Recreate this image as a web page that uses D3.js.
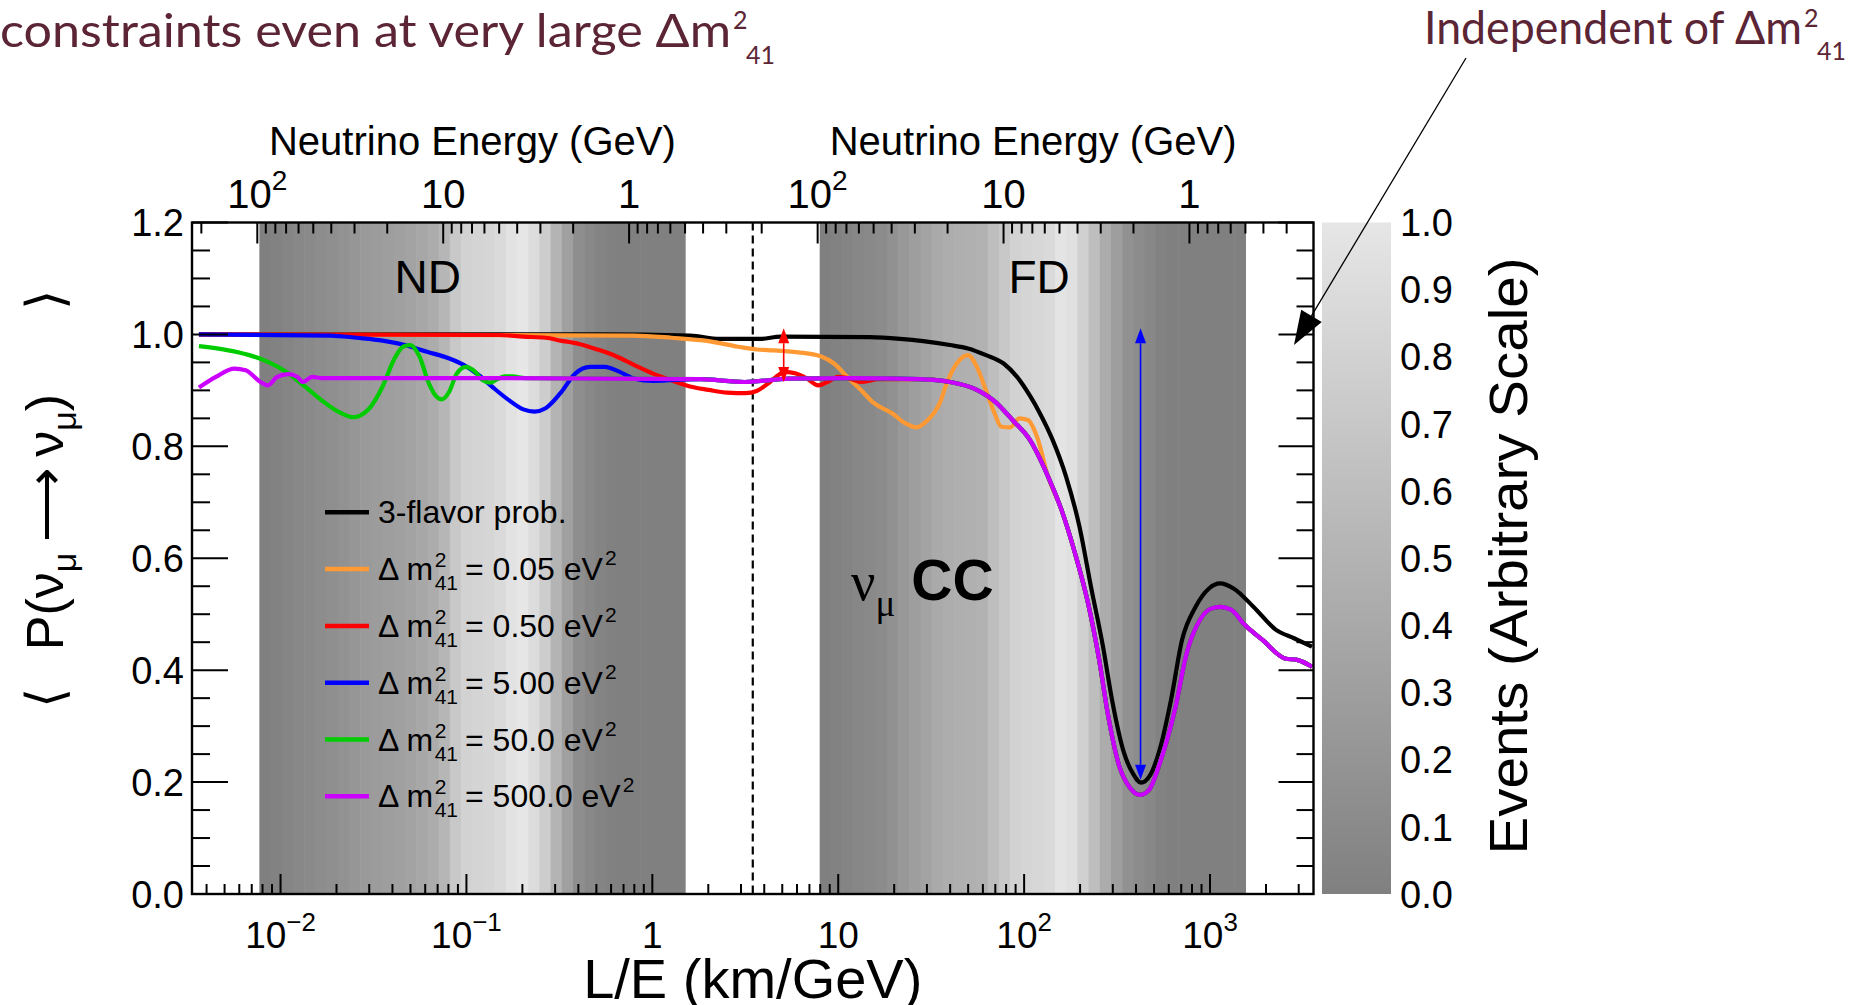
<!DOCTYPE html>
<html>
<head>
<meta charset="utf-8">
<script src="https://cdn.jsdelivr.net/npm/d3@7"></script>
<style>
  html, body { margin: 0; padding: 0; background: #fff; }
  svg { display: block; }
  text { font-family: "Liberation Sans", Arial, Helvetica, sans-serif; fill: #000; }
  .hdr { font-family: Lato, "Open Sans", sans-serif; fill: #5b2535; }
</style>
</head>
<body>
<svg id="chart" width="1856" height="1005"></svg>
<script>
// ---------------- data ----------------
// Baselines (km) of the two detectors, used for the energy axes on top.
const ndBaselineKm = 0.75;
const fdBaselineKm = 775;
// Energy range covered by the event-rate shading (GeV).
const bandEnergyGeV = [0.5, 97.5];
// L/E value separating the ND and FD halves.
const detectorDividerLE = 3.47;

// Relative event rates per energy bin (high energy -> low energy, left to right).
const ndEvents = [0, .02, .05, .08, .10, .13, .15, .18, .22, .25, .27, .29, .31, .34, .38, .43, .53, .71, .80, .82,
                  .84, .88, .96, 1.0, .90, .75, .51, .31, .14, .08, .04, .01, 0, 0, 0, 0, 0, 0];
const fdEvents = [0, .02, .04, .07, .09, .12, .17, .24, .29, .34, .41, .44, .46, .47, .49, .61, .71, .80, .83, .85,
                  .88, .98, .94, .78, .61, .43, .29, .17, .12, .08, .02, 0, 0, 0, 0, 0, 0, 0];

// Axis ranges
const leDomain = [0.00334, 3603];
const probDomain = [0, 1.2];

// Tick labels
const leTickValues = [0.01, 0.1, 1, 10, 100, 1000];
const leTickLabels = ["10^\u22122", "10^\u22121", "1", "10", "10^2", "10^3"];
const energyTickValues = [100, 10, 1];
const energyTickLabels = ["10^2", "10", "1"];
const probTickValues = [0, 0.2, 0.4, 0.6, 0.8, 1.0, 1.2];
const eventTickValues = [0, 0.1, 0.2, 0.3, 0.4, 0.5, 0.6, 0.7, 0.8, 0.9, 1.0];

// 3-flavour survival probability
const threeFlavorLE = [0.00364, 0.5, 1.6, 2.3, 3.8, 4.9, 14.8, 21.5, 28.6, 39.9,
  49.9, 62.4, 77.6, 91.6, 107.6, 120.3, 142.5, 168.1, 198.6, 229.0,
  265.7, 297.1, 344.7, 385.3, 425.5, 475.7, 538.3, 617.0, 707.1, 835.6,
  987.6, 1132, 1338, 1716, 2265, 2830, 3538];
const threeFlavorP = [1.0, 1.0, 0.998, 0.992, 0.992, 0.996, 0.995, 0.992, 0.988, 0.981,
  0.975, 0.963, 0.948, 0.924, 0.89, 0.862, 0.811, 0.746, 0.656, 0.549,
  0.442, 0.347, 0.252, 0.215, 0.199, 0.212, 0.26, 0.347, 0.454, 0.513,
  0.546, 0.555, 0.546, 0.513, 0.472, 0.457, 0.442];

// Common far-detector part shared by all 3+1 curves
const fdTailLE = [134.5, 159.1, 187.8, 220.7, 252.9, 282.7, 323.9, 371.2, 420.2, 469.8, 538.3,
  648.2, 748.4, 883.5, 1012.5, 1132, 1297, 1535, 1916, 2526, 2974, 3538];
const fdTailP = [0.746, 0.686, 0.609, 0.52, 0.42, 0.32, 0.23, 0.19, 0.177, 0.186, 0.235,
  0.33, 0.43, 0.49, 0.51, 0.513, 0.508, 0.481, 0.454, 0.421, 0.418, 0.406];

// dm41^2 = 0.05 eV^2
const dm005LE = [0.00364, 0.7974, 1.268, 2.006, 2.891, 3.644, 4.181, 6.093, 8.031, 9.493,
  11.19, 13.21, 15.58, 19.48, 22.99, 26.37, 30.3, 35.73, 37.78, 43.4,
  49.86, 55.67, 62.15, 69.39, 75.41, 84.32, 94.1, 104.9, 117.3];
const dm005P = [1.0, 0.998, 0.994, 0.988, 0.978, 0.973, 0.972, 0.968, 0.961, 0.948,
  0.924, 0.901, 0.877, 0.859, 0.841, 0.834, 0.847, 0.883, 0.907, 0.948,
  0.963, 0.942, 0.901, 0.859, 0.835, 0.834, 0.85, 0.847, 0.817];

// dm41^2 = 0.50 eV^2
const dm05LE = [0.00364, 0.1516, 0.2023, 0.2667, 0.3204, 0.4034, 0.5066, 0.6378, 0.8013, 1.009,
  1.268, 1.595, 2.006, 2.522, 3.176, 3.644, 4.181, 4.623, 5.162, 5.929,
  6.796, 7.816, 8.708, 10.03, 11.52, 13.21, 16.49, 27.54, 39.9, 55.67,
  69.74, 86.6, 107.6];
const dm05P = [1.0, 0.999, 0.996, 0.994, 0.989, 0.983, 0.973, 0.961, 0.945, 0.93,
  0.918, 0.907, 0.901, 0.896, 0.895, 0.899, 0.912, 0.924, 0.933, 0.93,
  0.921, 0.909, 0.915, 0.924, 0.921, 0.915, 0.92, 0.92, 0.915, 0.901,
  0.88, 0.847, 0.811];

// dm41^2 = 5.00 eV^2
const dm5LE = [0.00364, 0.01862, 0.0257, 0.03541, 0.04662, 0.06139, 0.08091, 0.09707, 0.1167, 0.1403,
  0.1684, 0.2023, 0.2321, 0.2667, 0.3204, 0.3848, 0.4623, 0.5553, 0.667, 0.8013,
  1.009, 1.806, 3.137, 5.437, 11.57, 27.54, 39.9, 55.67, 69.74, 86.6, 107.6];
const dm5P = [1.0, 0.998, 0.994, 0.989, 0.981, 0.969, 0.957, 0.945, 0.927, 0.904,
  0.883, 0.866, 0.862, 0.868, 0.895, 0.93, 0.942, 0.942, 0.933, 0.921,
  0.917, 0.92, 0.915, 0.921, 0.922, 0.92, 0.915, 0.901, 0.88, 0.847, 0.811];

// dm41^2 = 50.0 eV^2
const dm50LE = [0.00364, 0.005157, 0.006796, 0.00855, 0.01075, 0.01351, 0.01699, 0.02041, 0.02455, 0.02949,
  0.03541, 0.04062, 0.0456, 0.04997, 0.05601, 0.06286, 0.06889, 0.07382, 0.08091, 0.08867,
  0.0995, 0.1115, 0.1222, 0.134, 0.1468, 0.1609, 0.1764, 0.2067, 1.806, 3.137,
  5.437, 11.57, 27.54, 39.9, 55.67, 69.74, 86.6, 107.6];
const dm50P = [0.979, 0.972, 0.963, 0.951, 0.933, 0.907, 0.88, 0.862, 0.852, 0.865,
  0.907, 0.954, 0.978, 0.981, 0.96, 0.912, 0.889, 0.884, 0.898, 0.93,
  0.942, 0.933, 0.918, 0.914, 0.92, 0.925, 0.925, 0.922, 0.92, 0.915,
  0.921, 0.922, 0.92, 0.915, 0.901, 0.88, 0.847, 0.811];

// dm41^2 = 500.0 eV^2
const dm500LE = [0.00364, 0.00449, 0.00565, 0.00649, 0.0078, 0.00855, 0.00958, 0.011, 0.01233, 0.01321,
  0.01481, 0.01672, 0.1516, 1.806, 3.137, 5.437, 11.57, 27.54, 39.9, 55.67,
  69.74, 86.6, 107.6];
const dm500P = [0.905, 0.924, 0.939, 0.936, 0.915, 0.909, 0.924, 0.929, 0.924, 0.915,
  0.924, 0.922, 0.922, 0.92, 0.915, 0.921, 0.922, 0.92, 0.915, 0.901,
  0.88, 0.847, 0.811];

// Legend
const seriesColors = ["#000000", "#ff9933", "#ff0000", "#0000ff", "#00cc00", "#cc00ff"];
const legendDm2 = [null, "0.05", "0.50", "5.00", "50.0", "500.0"];

// Size of the disappearance effect at the two detectors
const ndArrow = { le: 5.09, p: [1.011, 0.915], color: "#ff0000" };
const fdArrow = { le: 423, p: [1.011, 0.204], color: "#0000ff" };
// Point the callout refers to
const calloutTarget = [2830, 0.981];
// Where the detector labels sit (L/E)
const ndLabelLE = 0.062;
const fdLabelLE = 120.3;

// ---------------- drawing ----------------
const svg = d3.select("#chart");
const plot = { left: 192, right: 1313.5, top: 222.5, bottom: 894 };
const bar = { left: 1322, right: 1391 };

const x = d3.scaleLog().domain(leDomain).range([plot.left, plot.right]);
const y = d3.scaleLinear().domain(probDomain).range([plot.bottom, plot.top]);
const shade = d3.scaleLinear().domain([0, 1]).range(["#808080", "#e6e6e6"]);
const barY = d3.scaleLinear().domain([0, 1]).range([plot.bottom, plot.top]);

svg.append("rect").attr("width", 1856).attr("height", 1005).attr("fill", "#fff");

svg.append("defs").append("clipPath").attr("id", "plotClip")
  .append("rect").attr("x", plot.left).attr("y", plot.top)
  .attr("width", plot.right - plot.left).attr("height", plot.bottom - plot.top);

// Event-rate shading
function drawBand(events, baselineKm) {
  const lo = Math.log10(baselineKm / bandEnergyGeV[1]);
  const hi = Math.log10(baselineKm / bandEnergyGeV[0]);
  const n = events.length;
  const edges = d3.range(n + 1).map(i => Math.pow(10, lo + (hi - lo) * i / n));
  svg.append("g").selectAll("rect").data(events).join("rect")
    .attr("x", (d, i) => x(edges[i]))
    .attr("width", (d, i) => x(edges[i + 1]) - x(edges[i]) + 0.6)
    .attr("y", plot.top)
    .attr("height", plot.bottom - plot.top)
    .attr("fill", d => shade(d));
}
drawBand(ndEvents, ndBaselineKm);
drawBand(fdEvents, fdBaselineKm);

// Divider between the detectors
svg.append("line")
  .attr("x1", x(detectorDividerLE)).attr("x2", x(detectorDividerLE))
  .attr("y1", plot.top).attr("y2", plot.bottom)
  .attr("stroke", "#000").attr("stroke-width", 2.2).attr("stroke-dasharray", "8,5");

// Curves
const zip = (a, b) => a.map((v, i) => [v, b[i]]);
const series = [
  zip(threeFlavorLE, threeFlavorP),
  zip(dm005LE.concat(fdTailLE), dm005P.concat(fdTailP)),
  zip(dm05LE.concat(fdTailLE), dm05P.concat(fdTailP)),
  zip(dm5LE.concat(fdTailLE), dm5P.concat(fdTailP)),
  zip(dm50LE.concat(fdTailLE), dm50P.concat(fdTailP)),
  zip(dm500LE.concat(fdTailLE), dm500P.concat(fdTailP))
];
const line = d3.line().x(d => x(d[0])).y(d => y(d[1])).curve(d3.curveMonotoneX);
svg.append("g").attr("clip-path", "url(#plotClip)")
  .selectAll("path").data(series).join("path")
  .attr("d", line)
  .attr("fill", "none")
  .attr("stroke", (d, i) => seriesColors[i])
  .attr("stroke-width", 4.2)
  .attr("stroke-linejoin", "round");

// Double-headed arrows
function doubleArrow(a) {
  const xa = x(a.le), y1 = y(a.p[0]), y2 = y(a.p[1]);
  const g = svg.append("g");
  const hl = 15, hw = 5.5;
  g.append("line").attr("x1", xa).attr("x2", xa).attr("y1", y1 + hl).attr("y2", y2 - hl)
    .attr("stroke", a.color).attr("stroke-width", 1.6);
  g.append("path").attr("fill", a.color)
    .attr("d", `M${xa},${y1} L${xa - hw},${y1 + hl} L${xa + hw},${y1 + hl} Z`);
  g.append("path").attr("fill", a.color)
    .attr("d", `M${xa},${y2} L${xa - hw},${y2 - hl} L${xa + hw},${y2 - hl} Z`);
}
doubleArrow(ndArrow);
doubleArrow(fdArrow);

// Frame
svg.append("rect").attr("x", plot.left).attr("y", plot.top)
  .attr("width", plot.right - plot.left).attr("height", plot.bottom - plot.top)
  .attr("fill", "none").attr("stroke", "#000").attr("stroke-width", 2.4);

const ticks = svg.append("g").attr("stroke", "#000").attr("stroke-width", 2);

function powerLabel(sel, label, raise) {
  const parts = label.split("^");
  sel.append("tspan").text(parts[0]);
  if (parts[1]) sel.append("tspan").attr("dy", -raise).style("font-size", "70%").text(parts[1]);
}

// Bottom L/E axis
const leMinor = [];
for (let e = -3; e <= 3; e++) for (let m = 1; m <= 9; m++) {
  const v = m * Math.pow(10, e);
  if (v >= leDomain[0] && v <= leDomain[1]) leMinor.push({ v, major: m === 1 });
}
ticks.selectAll(".bt").data(leMinor).join("line")
  .attr("x1", d => x(d.v)).attr("x2", d => x(d.v))
  .attr("y1", plot.bottom).attr("y2", d => plot.bottom - (d.major ? 20 : 10));
leTickValues.forEach((v, i) => {
  const t = svg.append("text").attr("x", x(v)).attr("y", 948)
    .attr("text-anchor", "middle").style("font-size", "37px");
  powerLabel(t, leTickLabels[i], 17);
});
svg.append("text").attr("x", (plot.left + plot.right) / 2).attr("y", 998)
  .attr("text-anchor", "middle").style("font-size", "56px").text("L/E (km/GeV)");

// Top energy axes, one per detector
const divX = x(detectorDividerLE);
function energyAxis(baselineKm, x0, x1) {
  const pos = e => x(baselineKm / e);
  const list = [];
  for (let p = -2; p <= 3; p++) for (let m = 1; m <= 9; m++) {
    const e = m * Math.pow(10, p);
    const px = pos(e);
    if (px > x0 + 1 && px < x1 - 1) list.push({ px, major: m === 1 });
  }
  list.forEach(d => ticks.append("line").attr("x1", d.px).attr("x2", d.px)
    .attr("y1", plot.top).attr("y2", plot.top + (d.major ? 21 : 11)));
  energyTickValues.forEach((e, i) => {
    const t = svg.append("text").attr("x", pos(e)).attr("y", 207.5)
      .attr("text-anchor", "middle").style("font-size", "40px");
    powerLabel(t, energyTickLabels[i], 18);
  });
  svg.append("text").attr("x", (x0 + x1) / 2).attr("y", 155)
    .attr("text-anchor", "middle").style("font-size", "40px").text("Neutrino Energy (GeV)");
}
energyAxis(ndBaselineKm, plot.left, divX);
energyAxis(fdBaselineKm, divX, plot.right);

// Left and right probability axes
const pTicks = d3.range(0, 25).map(i => ({ v: i * 0.05, major: i % 4 === 0 }));
pTicks.forEach(d => {
  const yy = y(d.v);
  ticks.append("line").attr("x1", plot.left).attr("x2", plot.left + (d.major ? 36 : 18)).attr("y1", yy).attr("y2", yy);
  ticks.append("line").attr("x1", plot.right).attr("x2", plot.right - (d.major ? 35 : 17)).attr("y1", yy).attr("y2", yy);
});
probTickValues.forEach(v => {
  svg.append("text").attr("x", 184).attr("y", y(v)).attr("dy", "0.36em")
    .attr("text-anchor", "end").style("font-size", "38px").text(v.toFixed(1));
});

// Y-axis title: rotated group, x runs upward along the axis
const yt = svg.append("g").attr("transform", "translate(63,0) rotate(-90)").style("font-size", "52px");
yt.append("text").attr("x", -698).attr("text-anchor", "middle").text("\u27E8");
yt.append("text").attr("x", -300).attr("text-anchor", "middle").text("\u27E9");
const ytMid = yt.append("text").attr("x", -522).attr("text-anchor", "middle");
ytMid.append("tspan").text("P(\u03BD");
ytMid.append("tspan").attr("dy", 13).style("font-size", "34px").text("\u03BC");
ytMid.append("tspan").attr("dy", -13).text("\u2009\u27F6\u2009\u03BD");
ytMid.append("tspan").attr("dy", 13).style("font-size", "34px").text("\u03BC");
ytMid.append("tspan").attr("dy", -13).text(")");

// Region labels
svg.append("text").attr("x", x(ndLabelLE)).attr("y", 293)
  .attr("text-anchor", "middle").style("font-size", "46px").text("ND");
svg.append("text").attr("x", x(fdLabelLE)).attr("y", 293)
  .attr("text-anchor", "middle").style("font-size", "46px").text("FD");
const cc = svg.append("text").attr("x", 851).attr("y", 600).style("font-size", "54px");
cc.append("tspan").style("font-family", "'Liberation Serif', serif").text("\u03BD");
cc.append("tspan").attr("dy", 16).style("font-family", "'Liberation Serif', serif").style("font-size", "37px").text("\u03BC");
cc.append("tspan").attr("dy", -16).attr("dx", 16).style("font-weight", "bold").style("font-size", "57px").text("CC");

// Legend
const legend = svg.append("g");
seriesColors.forEach((c, i) => {
  const cy = 512.3 + i * 56.8;
  const g = legend.append("g").attr("transform", `translate(0,${cy})`);
  g.append("line").attr("x1", 325).attr("x2", 369).attr("y1", 0).attr("y2", 0)
    .attr("stroke", c).attr("stroke-width", 4.5);
  if (legendDm2[i] === null) {
    g.append("text").attr("x", 378).attr("y", 11).style("font-size", "32px").text("3-flavor prob.");
    return;
  }
  const t1 = g.append("text").attr("x", 378).attr("y", 11).style("font-size", "32px").text("\u0394 m");
  const sx = 378 + t1.node().getComputedTextLength() + 1.5;
  g.append("text").attr("x", sx).attr("y", -2).style("font-size", "21px").text("2");
  const sub = g.append("text").attr("x", sx).attr("y", 21).style("font-size", "21px").text("41");
  const ex = sx + sub.node().getComputedTextLength() + 7;
  const t2 = g.append("text").attr("x", ex).attr("y", 11).style("font-size", "32px").text(`= ${legendDm2[i]} eV`);
  g.append("text").attr("x", ex + t2.node().getComputedTextLength() + 2).attr("y", -4)
    .style("font-size", "21px").text("2");
});

// Colour bar for the event rate
const grad = svg.select("defs").append("linearGradient").attr("id", "barGrad")
  .attr("x1", 0).attr("x2", 0).attr("y1", 1).attr("y2", 0);
grad.append("stop").attr("offset", 0).attr("stop-color", shade(0));
grad.append("stop").attr("offset", 1).attr("stop-color", shade(1));
svg.append("rect").attr("x", bar.left).attr("y", plot.top)
  .attr("width", bar.right - bar.left).attr("height", plot.bottom - plot.top)
  .attr("fill", "url(#barGrad)");
eventTickValues.forEach(v => {
  if (v > 0 && v < 1) ticks.append("line").attr("x1", bar.right).attr("x2", bar.right - 36)
    .attr("y1", barY(v)).attr("y2", barY(v));
  svg.append("text").attr("x", 1400).attr("y", barY(v)).attr("dy", "0.36em")
    .style("font-size", "38px").text(v.toFixed(1));
});
svg.append("text").attr("transform", "translate(1527,556) rotate(-90)")
  .attr("text-anchor", "middle").style("font-size", "53px")
  .attr("textLength", 597).attr("lengthAdjust", "spacingAndGlyphs")
  .text("Events (Arbitrary Scale)");

// Slide headers
svg.append("text").attr("class", "hdr").attr("x", 0).attr("y", 47).style("font-size", "46px")
  .attr("textLength", 731).attr("lengthAdjust", "spacingAndGlyphs").text("constraints even at very large \u0394m");
svg.append("text").attr("class", "hdr").attr("x", 733).attr("y", 29).style("font-size", "25px").text("2");
svg.append("text").attr("class", "hdr").attr("x", 746).attr("y", 64).style("font-size", "25px").text("41");

svg.append("text").attr("class", "hdr").attr("x", 1424).attr("y", 44).style("font-size", "46px")
  .attr("textLength", 378).attr("lengthAdjust", "spacingAndGlyphs").text("Independent of \u0394m");
svg.append("text").attr("class", "hdr").attr("x", 1804).attr("y", 27).style("font-size", "25px").text("2");
svg.append("text").attr("class", "hdr").attr("x", 1817).attr("y", 60).style("font-size", "25px").text("41");

// Callout arrow
const tip = [x(calloutTarget[0]), y(calloutTarget[1])];
const tail = [1466, 58];
const dx = tip[0] - tail[0], dy = tip[1] - tail[1];
const len = Math.hypot(dx, dy), ux = dx / len, uy = dy / len;
const headL = 34, headW = 12;
const base = [tip[0] - ux * headL, tip[1] - uy * headL];
svg.append("line").attr("x1", tail[0]).attr("y1", tail[1]).attr("x2", base[0]).attr("y2", base[1])
  .attr("stroke", "#000").attr("stroke-width", 1.3);
svg.append("path").attr("fill", "#000")
  .attr("d", `M${tip[0]},${tip[1]} L${base[0] - uy * headW},${base[1] + ux * headW} L${base[0] + uy * headW},${base[1] - ux * headW} Z`);
</script>
</body>
</html>
